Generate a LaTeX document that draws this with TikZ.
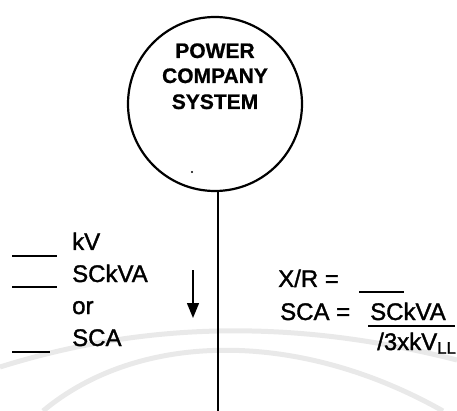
\documentclass[tikz,border=0pt]{standalone}
\usepackage{fontspec}
\setmainfont{Liberation Sans}
\newfontfamily\heavyfont{Liberation Sans}[FakeBold=1.4]
\newfontfamily\titlefont{Liberation Sans Bold}[FakeBold=0.8]
\usetikzlibrary{arrows.meta,calc}
\tikzset{
  lbl/.style={font=\heavyfont\fontsize{24}{28}\selectfont, inner sep=0pt, anchor=base west},
  blank/.style={line width=1.8pt},
  ttl/.style={font=\titlefont\fontsize{21}{25}\selectfont, inner sep=0pt, anchor=base},
  wmark/.style={draw=gray!17, line width=5pt}
}
\begin{document}
\begin{tikzpicture}[x=1pt,y=-1pt]
\useasboundingbox (0,0) rectangle (457,411);
% faint watermark arcs
\draw[wmark] (0,367) .. controls (150,320) and (300,320) .. (457,360);
\draw[wmark] (43,411) .. controls (140,330) and (300,330) .. (443,411);
% system circle
\node[circle,draw,line width=2.2pt,minimum size=174pt,inner sep=0pt] (sys) at (215,104) {};
\node[ttl] (t1) at (215,58) {POWER};
\node[ttl] (t2) at (215,83) {COMPANY};
\node[ttl] (t3) at (215,109) {SYSTEM};
\fill (192,172) circle (1.1pt) coordinate (dot);
\coordinate (top) at (218,191);
\coordinate (bot) at (218,411);
\draw[line width=1.8pt] (top) -- (bot);
% arrow
\coordinate (a1) at (193,270);
\coordinate (a2) at (193,318);
\draw[line width=1.4pt,-{Triangle[length=15pt,width=12pt]}] (a1) -- (a2);
% left labels
\node[lbl] (kv) at (72,250) {kV};
\node[lbl] (sckva) at (72,282) {SCkVA};
\node[lbl] (or) at (72,314) {or};
\node[lbl] (sca) at (72,346) {SCA};
\coordinate (b1s) at (12,256); \coordinate (b1e) at (57,256);
\coordinate (b2s) at (12,287); \coordinate (b2e) at (57,287);
\coordinate (b3s) at (12,352); \coordinate (b3e) at (50,352);
\draw[blank] (b1s) -- (b1e);
\draw[blank] (b2s) -- (b2e);
\draw[blank] (b3s) -- (b3e);
% right labels
\node[lbl] (xr) at (278,287) {X/R =};
\coordinate (xrs) at (359,292); \coordinate (xre) at (404,292);
\draw[blank] (xrs) -- (xre);
\node[lbl] (sca2) at (280,320) {SCA =};
\node[lbl] (num) at (370,320) {SCkVA};
\coordinate (uls) at (368,326); \coordinate (ule) at (455,326);
\draw[blank] (uls) -- (ule);
\node[lbl] (den) at (377,350) {/3xkV\textsubscript{LL}};
\end{tikzpicture}
\end{document}
